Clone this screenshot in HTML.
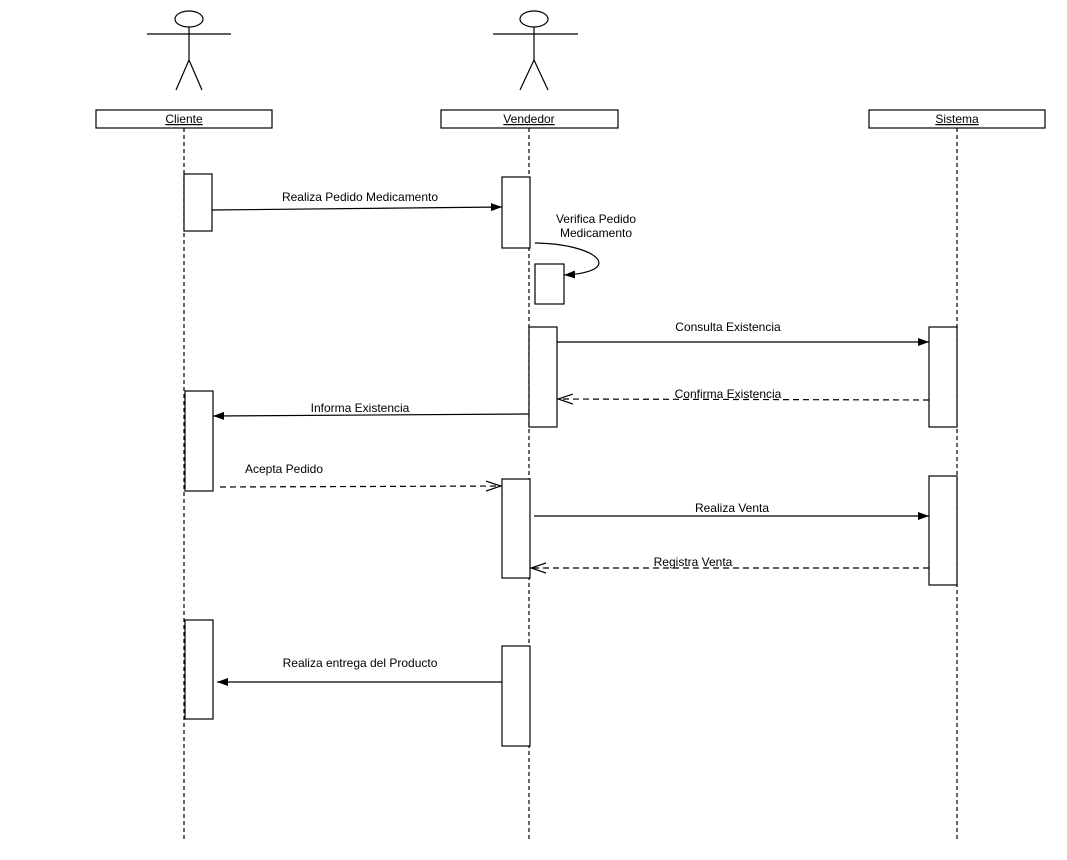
<!DOCTYPE html>
<html><head><meta charset="utf-8"><style>
html,body{margin:0;padding:0;background:#fff}
svg{display:block}
text{font-family:"Liberation Sans",Arial,sans-serif;font-size:12px;fill:#000}
</style></head><body>
<svg width="1067" height="860" viewBox="0 0 1067 860" xmlns="http://www.w3.org/2000/svg">
<defs>
<marker id="f" markerWidth="12" markerHeight="10" refX="11" refY="5" orient="auto" markerUnits="userSpaceOnUse"><path d="M0,1 L11,5 L0,9 Z" fill="#000"/></marker>
<marker id="o" markerWidth="16" markerHeight="12" refX="15" refY="6" orient="auto" markerUnits="userSpaceOnUse"><path d="M0,1 L15,6 L0,11" fill="none" stroke="#000" stroke-width="1.2"/></marker>
</defs>
<g stroke="#000" stroke-width="1.2" fill="none">
<!-- actors -->
<ellipse cx="189" cy="19" rx="14" ry="8"/><line x1="147" y1="34" x2="231" y2="34"/><line x1="189" y1="27" x2="189" y2="60"/><line x1="189" y1="60" x2="176" y2="90"/><line x1="189" y1="60" x2="202" y2="90"/>
<ellipse cx="534" cy="19" rx="14" ry="8"/><line x1="493" y1="34" x2="578" y2="34"/><line x1="534" y1="27" x2="534" y2="60"/><line x1="534" y1="60" x2="520" y2="90"/><line x1="534" y1="60" x2="548" y2="90"/>
<!-- lifelines -->
<line x1="184" y1="128" x2="184" y2="840" stroke-dasharray="4,3"/>
<line x1="529" y1="128" x2="529" y2="840" stroke-dasharray="4,3"/>
<line x1="957" y1="128" x2="957" y2="840" stroke-dasharray="4,3"/>
<!-- headers -->
<rect x="96" y="110" width="176" height="18" fill="#fff"/>
<rect x="441" y="110" width="177" height="18" fill="#fff"/>
<rect x="869" y="110" width="176" height="18" fill="#fff"/>
<!-- activations -->
<rect x="184" y="174" width="28" height="57" fill="#fff"/>
<rect x="502" y="177" width="28" height="71" fill="#fff"/>
<rect x="535" y="264" width="29" height="40" fill="#fff"/>
<rect x="529" y="327" width="28" height="100" fill="#fff"/>
<rect x="929" y="327" width="28" height="100" fill="#fff"/>
<rect x="185" y="391" width="28" height="100" fill="#fff"/>
<rect x="502" y="479" width="28" height="99" fill="#fff"/>
<rect x="929" y="476" width="28" height="109" fill="#fff"/>
<rect x="185" y="620" width="28" height="99" fill="#fff"/>
<rect x="502" y="646" width="28" height="100" fill="#fff"/>
<!-- messages -->
<line x1="212" y1="210" x2="502" y2="207" marker-end="url(#f)"/>
<path d="M535,243 C600,244 625,272 564,275" marker-end="url(#f)"/>
<line x1="557" y1="342" x2="929" y2="342" marker-end="url(#f)"/>
<line x1="929" y1="400" x2="558" y2="399" stroke-dasharray="6,4" marker-end="url(#o)"/>
<line x1="529" y1="414" x2="213" y2="416" marker-end="url(#f)"/>
<line x1="220" y1="487" x2="501" y2="486" stroke-dasharray="6,4" marker-end="url(#o)"/>
<line x1="534" y1="516" x2="929" y2="516" marker-end="url(#f)"/>
<line x1="929" y1="568" x2="531" y2="568" stroke-dasharray="6,4" marker-end="url(#o)"/>
<line x1="502" y1="682" x2="217" y2="682" marker-end="url(#f)"/>
</g>
<g text-anchor="middle">
<text x="184" y="123" text-decoration="underline">Cliente</text>
<text x="529" y="123" text-decoration="underline">Vendedor</text>
<text x="957" y="123" text-decoration="underline">Sistema</text>
<text x="360" y="201">Realiza Pedido Medicamento</text>
<text x="596" y="223">Verifica Pedido</text>
<text x="596" y="237">Medicamento</text>
<text x="728" y="331">Consulta Existencia</text>
<text x="728" y="398">Confirma Existencia</text>
<text x="360" y="412">Informa Existencia</text>
<text x="284" y="473">Acepta Pedido</text>
<text x="732" y="512">Realiza Venta</text>
<text x="693" y="566">Registra Venta</text>
<text x="360" y="667">Realiza entrega del Producto</text>
</g>
</svg>
</body></html>
